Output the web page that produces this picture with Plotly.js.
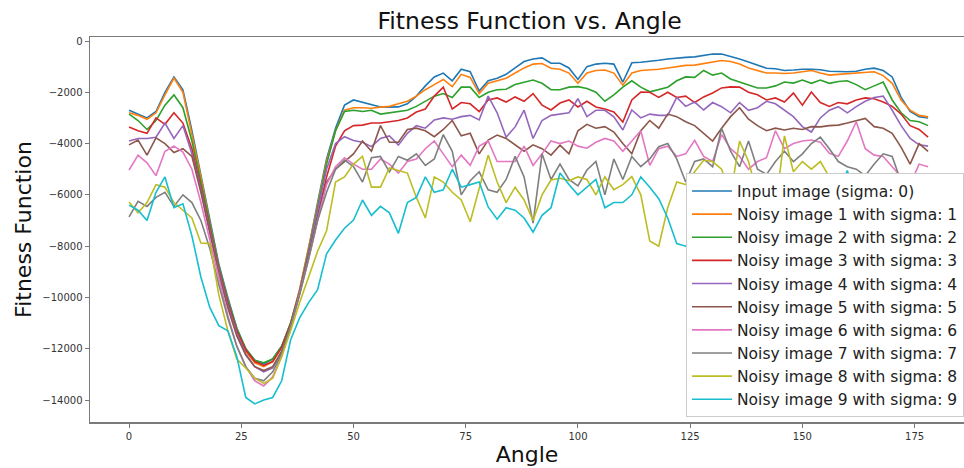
<!DOCTYPE html>
<html><head><meta charset="utf-8">
<script src="https://cdn.plot.ly/plotly-3.0.1.min.js"></script>
<style>html,body{margin:0;padding:0;background:#fff;overflow:hidden}#chart{width:964px;height:468px}</style>
</head><body><div id="chart"></div>
<script>
const angles = [0,2,4,6,8,10,12,14,16,18,20,22,24,26,28,30,32,34,36,38,40,42,44,46,48,50,52,54,56,58,60,62,64,66,68,70,72,74,76,78,80,82,84,86,88,90,92,94,96,98,100,102,104,106,108,110,112,114,116,118,120,122,124,126,128,130,132,134,136,138,140,142,144,146,148,150,152,154,156,158,160,162,164,166,168,170,172,174,176,178];

const sigma0 = [-2700,-2850,-3000,-2750,-2000,-1400,-1900,-3500,-5200,-7000,
 -8700,-10000,-11200,-12000,-12450,-12600,-12400,-11900,-11000,-9700,
 -8100,-6300,-4600,-3400,-2500,-2300,-2400,-2500,-2570,-2580,
 -2570,-2450,-2150,-1750,-1400,-1250,-1550,-1100,-1200,-1950,
 -1550,-1450,-1300,-1050,-800,-700,-660,-870,-870,-1050,
 -1500,-1000,-900,-870,-900,-1600,-850,-830,-800,-750,
 -700,-660,-640,-620,-560,-510,-510,-590,-700,-820,
 -950,-1060,-1080,-1150,-1130,-1100,-1100,-1120,-1180,-1200,
 -1200,-1180,-1100,-1060,-1150,-1400,-2200,-2750,-2950,-3000];

const sigma1 = [-2800,-2900,-3050,-2800,-2100,-1450,-2000,-3600,-5300,-7100,
 -8800,-10100,-11300,-12100,-12550,-12700,-12500,-11950,-11000,-9700,
 -8100,-6400,-4700,-3500,-2700,-2600,-2600,-2620,-2580,-2550,
 -2450,-2350,-2150,-1900,-1700,-1500,-1780,-1300,-1420,-2050,
 -1650,-1550,-1450,-1250,-1050,-900,-880,-1060,-1100,-1250,
 -1650,-1250,-1150,-1130,-1250,-1720,-1250,-1150,-1130,-1100,
 -1050,-1000,-950,-940,-880,-820,-760,-800,-900,-1050,
 -1150,-1250,-1250,-1270,-1250,-1200,-1150,-1250,-1330,-1300,
 -1280,-1260,-1220,-1200,-1350,-1650,-2300,-2700,-2900,-2960];

const sigma2 = [-2850,-3100,-3450,-3100,-2500,-2100,-2600,-3900,-5500,-7200,
 -8800,-10100,-11200,-12000,-12450,-12550,-12400,-11900,-11000,-9800,
 -8200,-6500,-4800,-3500,-2750,-2700,-2750,-2700,-2850,-2800,
 -2750,-2700,-2550,-2350,-2150,-2050,-2200,-1800,-1800,-2200,
 -2000,-1900,-1880,-1700,-1600,-1520,-1650,-1900,-1900,-1800,
 -1780,-1850,-2000,-2350,-2100,-1800,-1550,-1800,-1980,-1900,
 -1800,-1550,-1400,-1420,-1150,-1330,-1250,-1480,-1600,-1700,
 -1830,-1830,-1750,-1600,-1640,-1520,-1650,-1520,-1650,-1580,
 -1550,-1700,-1900,-1750,-1600,-2300,-2800,-3100,-3150,-3300];

const sigma3 = [-3350,-3500,-3600,-3000,-3250,-2800,-3200,-4200,-5700,-7300,
 -8900,-10200,-11300,-12050,-12500,-12650,-12500,-11950,-11050,-9800,
 -8300,-6800,-5300,-4100,-3500,-3300,-3280,-3200,-3200,-3150,
 -3100,-3000,-2770,-2650,-2150,-1800,-2650,-2400,-2450,-2750,
 -2300,-2220,-2380,-2180,-2350,-2050,-2500,-2690,-2420,-2300,
 -2570,-2350,-2570,-2650,-2770,-3160,-2300,-1990,-2000,-2200,
 -2000,-2200,-2150,-2400,-2180,-2030,-1830,-1790,-1800,-2000,
 -2100,-2300,-2220,-2380,-2030,-2500,-1990,-2400,-2550,-2400,
 -2450,-2300,-2220,-2250,-2380,-2550,-2850,-3300,-3450,-3750];

const sigma4 = [-3900,-3800,-3800,-3750,-3200,-3800,-3300,-4400,-5800,-7400,
 -9000,-10300,-11400,-12200,-12700,-12900,-12750,-12100,-11150,-9850,
 -8200,-6600,-5000,-4000,-3730,-3880,-3950,-4120,-3800,-3700,
 -4060,-3600,-3300,-3400,-3080,-3000,-3050,-2950,-2900,-3080,
 -2150,-2800,-3750,-3350,-2700,-3800,-3100,-2900,-2850,-2800,
 -2250,-2950,-2700,-2700,-2960,-3470,-2690,-3000,-2850,-2900,
 -2900,-2200,-2550,-2380,-2690,-2400,-2560,-2800,-2400,-2700,
 -2600,-2350,-2450,-2690,-2950,-3340,-3550,-3000,-2700,-2560,
 -2800,-2560,-2350,-2200,-2150,-2700,-3300,-3800,-4050,-4100];

const sigma5 = [-4050,-3860,-4450,-3780,-4000,-4350,-4200,-4500,-5900,-7500,
 -9100,-10400,-11500,-12250,-12700,-12850,-12700,-12100,-11100,-9800,
 -8300,-6900,-5500,-5000,-4700,-4400,-3900,-4300,-3300,-3950,
 -3950,-3450,-3400,-3500,-3730,-3450,-3100,-3700,-3600,-4400,
 -3860,-3670,-3800,-4060,-4300,-4050,-4200,-4450,-4060,-4400,
 -3500,-3250,-3400,-3340,-3550,-4000,-4400,-3500,-3100,-3400,
 -2850,-2950,-3150,-3300,-3600,-3900,-3400,-2950,-2600,-3050,
 -3300,-3500,-3400,-3470,-3400,-3450,-3340,-3350,-3300,-3280,
 -3200,-3100,-3020,-3340,-3400,-3600,-4150,-4800,-4000,-4300];

const sigma6 = [-5030,-4450,-4750,-5250,-4300,-4100,-4330,-5000,-6300,-7800,
 -9300,-10700,-11900,-12700,-13250,-13450,-13100,-12300,-11200,-9900,
 -8500,-7000,-5600,-4900,-4550,-4800,-5000,-5000,-4600,-4800,
 -5150,-4700,-4600,-4200,-3900,-4400,-4900,-4450,-4850,-4100,
 -3900,-4700,-4700,-4700,-4100,-4850,-4400,-3900,-4000,-3900,
 -4100,-4180,-3950,-3800,-3900,-4300,-3900,-3500,-4850,-4200,
 -4100,-4500,-4400,-3870,-4500,-4700,-3650,-4200,-4500,-5000,
 -4700,-4550,-3500,-4200,-4000,-3900,-3860,-3950,-4380,-4500,
 -3900,-3150,-4200,-4450,-4500,-4900,-5300,-5600,-4800,-4900];

const sigma7 = [-6860,-6250,-6450,-6100,-5900,-6450,-6000,-6300,-7000,-8100,
 -9500,-10800,-11900,-12700,-13150,-13250,-12900,-12200,-11100,-9900,
 -8500,-7000,-5900,-5000,-4640,-4900,-5500,-4550,-4500,-5100,
 -4500,-4650,-4400,-4850,-4600,-3650,-4300,-6000,-5450,-5100,
 -5800,-5900,-5400,-4500,-5300,-7100,-4400,-5400,-4800,-5400,
 -5650,-5030,-4700,-6000,-4600,-5400,-4500,-4900,-4600,-4120,
 -4000,-4600,-5500,-4700,-4600,-4900,-3400,-4300,-4900,-3900,
 -5000,-5200,-4700,-4300,-4700,-4400,-4000,-3750,-4200,-4700,
 -4900,-5000,-5250,-4800,-4400,-4500,-5500,-6000,-6400,-6200];

const sigma8 = [-6280,-6700,-6300,-5600,-5700,-6300,-6600,-6900,-7880,-7900,
 -9900,-11300,-12400,-12750,-13150,-13350,-13150,-12300,-11300,-10200,
 -9200,-8200,-7400,-5500,-5300,-4800,-4500,-5700,-5700,-4950,
 -5050,-5150,-6100,-6900,-5300,-5500,-5900,-6200,-7050,-5700,
 -4450,-5500,-6300,-5700,-6200,-7000,-6000,-5420,-5350,-5450,
 -5300,-5400,-6000,-5300,-5800,-5600,-5290,-6000,-7800,-8000,
 -6500,-5500,-5600,-5100,-4650,-4700,-5000,-6000,-3900,-4700,
 -6000,-6900,-6500,-3700,-5100,-4700,-5000,-4700,-5300,-5800,
 -6200,-5600,-6500,-6000,-5900,-5150,-6500,-7000,-6600,-6800];

const sigma9 = [-6400,-6600,-7000,-5900,-5300,-6500,-6350,-7600,-9200,-10400,
 -11100,-11300,-12300,-13900,-14150,-14000,-13900,-13250,-11650,-10800,
 -10200,-9700,-8300,-7760,-7300,-6980,-6200,-6800,-6450,-6700,
 -7500,-6300,-6100,-5300,-5900,-5800,-5000,-5700,-5600,-5500,
 -6470,-6950,-6500,-6600,-6900,-7450,-6800,-6500,-5150,-5600,
 -6000,-5700,-5400,-6500,-6300,-6300,-6000,-5300,-5700,-6150,
 -6900,-7900,-8000,-7600,-7900,-7300,-7600,-7000,-6700,-7100,
 -6600,-6800,-6200,-5200,-6300,-6900,-6500,-7000,-6400,-5900,
 -5050,-6200,-6700,-6300,-6800,-7200,-7500,-8000,-7600,-7800];

const seriesNames = [
  'Input image (sigma: 0)',
  'Noisy image 1 with sigma: 1',
  'Noisy image 2 with sigma: 2',
  'Noisy image 3 with sigma: 3',
  'Noisy image 4 with sigma: 4',
  'Noisy image 5 with sigma: 5',
  'Noisy image 6 with sigma: 6',
  'Noisy image 7 with sigma: 7',
  'Noisy image 8 with sigma: 8',
  'Noisy image 9 with sigma: 9'
];
const seriesValues = [sigma0, sigma1, sigma2, sigma3, sigma4, sigma5, sigma6, sigma7, sigma8, sigma9];
const seriesColors = ['#1f77b4','#ff7f0e','#2ca02c','#d62728','#9467bd','#8c564b','#e377c2','#7f7f7f','#bcbd22','#17becf'];

const xTickVals = [0, 25, 50, 75, 100, 125, 150, 175];
const yTickVals = [0, -2000, -4000, -6000, -8000, -10000, -12000, -14000];
const yTickText = ['0', '\u22122000', '\u22124000', '\u22126000', '\u22128000', '\u221210000', '\u221212000', '\u221214000'];

const FONT = 'DejaVu Sans, Liberation Sans, sans-serif';

const traces = seriesValues.map((vals, i) => ({
  type: 'scatter', mode: 'lines',
  x: angles, y: vals, name: seriesNames[i],
  line: {color: seriesColors[i], width: 1.6}
}));

const layout = {
  width: 964, height: 468,
  margin: {l: 90, r: 0, t: 37, b: 46, pad: 0},
  paper_bgcolor: '#ffffff', plot_bgcolor: '#ffffff',
  font: {family: FONT, color: '#222'},
  showlegend: true,
  title: {text: 'Fitness Function vs. Angle', font: {family: FONT, size: 23.5, color: '#111'},
          xref: 'paper', x: 0.503, xanchor: 'center', yref: 'container', y: 0.955, yanchor: 'middle'},
  xaxis: {
    range: [-8.7, 186.0], tickvals: xTickVals, ticks: 'outside', ticklen: 4, tickwidth: 1, tickcolor: '#777',
    showline: true, mirror: true, linecolor: '#7a7a7a', linewidth: 1.5,
    showgrid: false, zeroline: false,
    tickfont: {family: FONT, size: 10, color: '#333'},
    title: {text: 'Angle', font: {family: FONT, size: 22, color: '#111'}, standoff: 6}
  },
  yaxis: {
    range: [-14857, 156], tickvals: yTickVals, ticktext: yTickText, ticks: 'outside', ticklen: 4, tickwidth: 1, tickcolor: '#777',
    showline: true, mirror: false, linecolor: '#7a7a7a', linewidth: 1.5,
    showgrid: false, zeroline: false,
    tickfont: {family: FONT, size: 10, color: '#333'},
    title: {text: 'Fitness Function', font: {family: FONT, size: 22, color: '#111'}, standoff: 4}
  },
  legend: {
    x: 1, xanchor: 'right', y: 0.012, yanchor: 'bottom',
    bgcolor: '#ffffff', bordercolor: '#cccccc', borderwidth: 1,
    itemwidth: 40,
    font: {family: FONT, size: 15.5, color: '#222'}
  }
};

Plotly.newPlot('chart', traces, layout, {staticPlot: true, displayModeBar: false});
</script>
</body></html>
